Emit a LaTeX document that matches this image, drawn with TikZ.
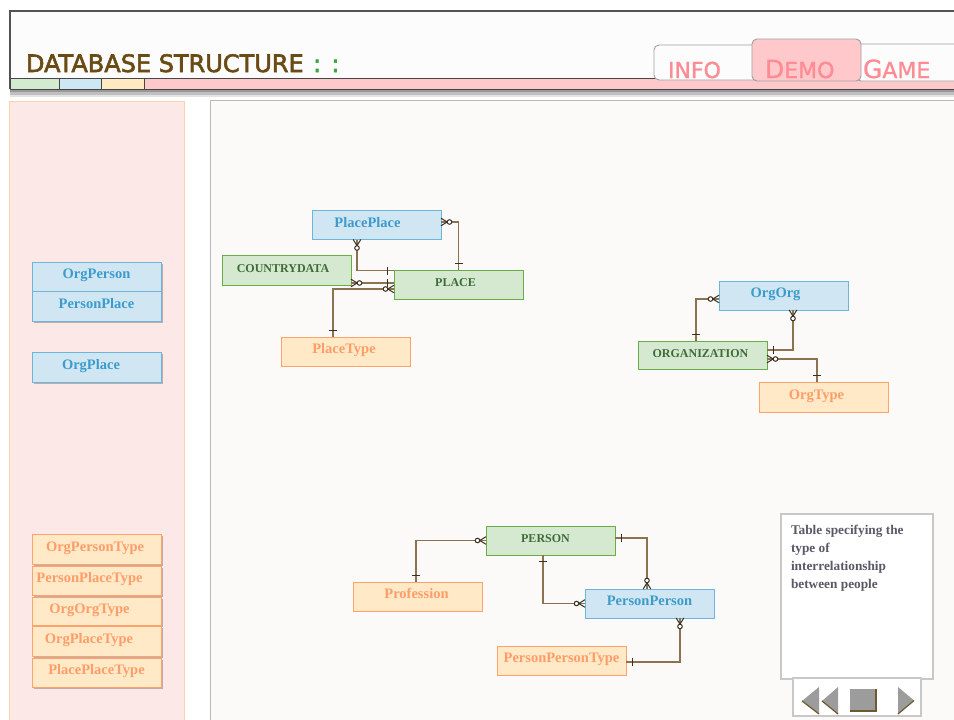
\documentclass[tikz,border=0pt]{standalone}
\usepackage{fontspec}
\setmainfont{Liberation Serif}
\newfontfamily\titlefont{DejaVu Sans}[FakeBold=2.5]
\newfontfamily\tabfont{DejaVu Sans}[FakeBold=1.2]
\usetikzlibrary{shadows}

% palette
\definecolor{titlebrown}{HTML}{6A4B16}
\definecolor{dotgreen}{HTML}{3CA53C}
\definecolor{tabpink}{HTML}{FF8C94}
\definecolor{tabfill}{HTML}{FFC9CC}
\definecolor{stripgreen}{HTML}{D3E9D0}
\definecolor{stripblue}{HTML}{CFE6F3}
\definecolor{stripyellow}{HTML}{FFEAC2}
\definecolor{leftfill}{HTML}{FDE8E8}
\definecolor{leftborder}{HTML}{FFD2AE}
\definecolor{mainfill}{HTML}{FCFAF8}
\definecolor{bluefill}{HTML}{D0E7F3}
\definecolor{blueline}{HTML}{6CB6DC}
\definecolor{bluetext}{HTML}{3D9BCC}
\definecolor{greenfill}{HTML}{D4E9D0}
\definecolor{greenline}{HTML}{6AAD46}
\definecolor{greentext}{HTML}{3F6B38}
\definecolor{orangefill}{HTML}{FFE9C6}
\definecolor{orangeline}{HTML}{FFA26C}
\definecolor{orangetext}{HTML}{FF9D6A}
\definecolor{relline}{HTML}{8B7352}
\definecolor{markc}{HTML}{3B3023}
\definecolor{notegray}{HTML}{C8C8C8}
\definecolor{notetext}{HTML}{5B5868}
\definecolor{navgray}{HTML}{9C9C9C}
\definecolor{navbrown}{HTML}{6E5A2E}

\tikzset{
  every node/.style={inner sep=0pt, outer sep=0pt},
  entity/.style={draw, line width=1pt, minimum width=129pt, minimum height=29pt,
    text height=10pt, text depth=6pt, font=\fontsize{14.5}{16}\selectfont\bfseries},
  bluebox/.style={entity, fill=bluefill, draw=blueline, text=bluetext},
  greenbox/.style={entity, fill=greenfill, draw=greenline, text=greentext,
    font=\fontsize{12}{14}\selectfont\bfseries},
  orangebox/.style={entity, fill=orangefill, draw=orangeline, text=orangetext},
  listshadow/.style={drop shadow={shadow xshift=2pt, shadow yshift=-2pt, opacity=0.25, fill=black}},
  rel/.style={draw=relline, line width=1.4pt},
  markline/.style={draw=markc, line width=1pt},
  zeromany/.pic={
    \draw[markline] (0,-3.8) -- (6.2,0) -- (0,3.8);
    \draw[markline, fill=white] (8.5,0) circle[radius=2.3pt];
  },
  onebar/.pic={
    \draw[markline] (6.5,-4) -- (6.5,4);
  },
  tab/.style={draw=gray!75, line width=0.9pt, rounded corners=5pt},
  tabtext/.style={anchor=base west, text=tabpink, font=\tabfont\fontsize{22}{22}\selectfont},
}

\begin{document}
\begin{tikzpicture}[x=1pt, y=-1pt]
\useasboundingbox (0,0) rectangle (954,720);
\clip (0,0) rectangle (954,720);
\fill[white] (0,0) rectangle (954,720);

% ---------- header bar ----------
\fill[gray!80] (10,89) rectangle (960,92);
\fill[gray!50] (10,92) rectangle (960,95);
\fill[gray!22] (10,95) rectangle (960,97);
\fill[white!99!black] (10,11) rectangle (960,89);
\draw[gray!65!black, line width=1.3pt] (960,11) -- (10,11) -- (10,89);

% colour strip
\begin{scope}[draw=gray!55!black, line width=0.8pt]
  \filldraw[fill=stripgreen]  (10,78) rectangle (59,89);
  \filldraw[fill=stripblue]   (59,78) rectangle (101,89);
  \filldraw[fill=stripyellow] (101,78) rectangle (144,89);
  \filldraw[fill=tabfill]     (144,78) rectangle (962,89);
\end{scope}

\node[anchor=base west, text=titlebrown, font=\titlefont\fontsize{24}{24}\selectfont]
  (title) at (26,72) {DATABASE STRUCTURE};
\node[anchor=base west, text=dotgreen, font=\titlefont\fontsize{24}{24}\selectfont]
  (dots) at (313,72) {: :};

% tabs
\filldraw[tab, fill=white!99!black] (654,45) rectangle (760,80);
\filldraw[tab, fill=white!99!black] (856,44) rectangle (975,81);
\filldraw[tab, fill=tabfill] (752,39) rectangle (861,81);
\node[tabtext] (info) at (668,78) {INFO};
\node[tabtext] (demo) at (765,78) {{\fontsize{25}{25}\selectfont D}EMO};
\node[tabtext] (game) at (863,78) {{\fontsize{25}{25}\selectfont G}AME};

% ---------- side panel ----------
\filldraw[draw=leftborder, fill=leftfill, line width=1pt] (9,101) rectangle (184,730);

\node[bluebox, listshadow] (lop)  at (96.5,276.5) {OrgPerson};
\node[bluebox, listshadow, minimum height=30pt] (lpp) at (96.5,306) {PersonPlace};
\node[bluebox, listshadow, minimum height=30pt] (lopl) at (96.5,367) {OrgPlace\kern11pt};

\node[orangebox, listshadow, minimum height=30pt] (lopt)  at (96.5,549)   {OrgPersonType\kern3pt};
\node[orangebox, listshadow] (lppt)  at (96.5,580.5) {PersonPlaceType\kern14pt};
\node[orangebox, listshadow, minimum height=28pt] (loot)  at (96.5,611)   {OrgOrgType\kern14pt};
\node[orangebox, listshadow, minimum height=30pt] (lplt)  at (96.5,641)   {OrgPlaceType\kern15pt};
\node[orangebox, listshadow] (lpplt) at (96.5,672.5) {PlacePlaceType};

% ---------- diagram panel ----------
\filldraw[draw=gray!55, fill=mainfill, line width=1pt] (210,100) rectangle (962,730);

% place group
\node[bluebox]   (pp) at (376.5,225)   {PlacePlace\kern18pt};
\node[greenbox, minimum height=30pt] (cd) at (286.5,270) {COUNTRYDATA\kern7pt};
\node[greenbox]  (pl) at (458.5,284.5) {PLACE\kern6pt};
\node[orangebox] (pt) at (345.5,351.5) {PlaceType\kern3pt};

% organization group
\node[bluebox]   (oo)  at (783.5,295.5) {OrgOrg\kern16pt};
\node[greenbox, minimum height=28pt] (org) at (702.5,355) {ORGANIZATION\kern4pt};
\node[orangebox, minimum height=30pt] (ot) at (823.5,397) {OrgType\kern14pt};

% person group
\node[greenbox]  (per)  at (550.5,540.5) {PERSON\kern10pt};
\node[orangebox] (prof) at (417.5,596.5) {Profession\kern2pt};
\node[bluebox]   (ppn)  at (649.5,603.5) {PersonPerson};
\node[orangebox] (ppt)  at (561.5,660.5) {PersonPersonType};

% ---------- relationships ----------
% PlacePlace -- PLACE
\coordinate (a1) at ([yshift=3pt]pp.east);
\draw[rel] (a1) -| (pl.north);
\pic at (a1) {zeromany};
\pic[rotate=90] at (pl.north) {onebar};

\coordinate (a2) at ([xshift=-19.5pt]pp.south);
\coordinate (a2e) at ([yshift=14pt]pl.west);
\draw[rel] (a2) |- (a2e);
\pic[rotate=-90] at (a2) {zeromany};
\pic[rotate=180] at (a2e) {onebar};

% COUNTRYDATA -- PLACE
\coordinate (a3) at ([yshift=-13pt]cd.east);
\draw[rel] (a3) -- (a3 -| pl.west);
\pic at (a3) {zeromany};
\pic[rotate=180] at (a3 -| pl.west) {onebar};

% PlaceType -- PLACE
\coordinate (a4) at ([xshift=-12.5pt]pt.north);
\coordinate (a4e) at ([yshift=-4.5pt]pl.west);
\draw[rel] (a4) |- (a4e);
\pic[rotate=90] at (a4) {onebar};
\pic[rotate=180] at (a4e) {zeromany};

% ORGANIZATION -- OrgOrg
\coordinate (b1) at ([xshift=-6.5pt]org.north);
\coordinate (b1e) at ([yshift=-3.5pt]oo.west);
\draw[rel] (b1) |- (b1e);
\pic[rotate=90] at (b1) {onebar};
\pic[rotate=180] at (b1e) {zeromany};

\coordinate (b2) at ([xshift=9.5pt]oo.south);
\coordinate (b2e) at ([yshift=5pt]org.east);
\draw[rel] (b2) |- (b2e);
\pic[rotate=-90] at (b2) {zeromany};
\pic at (b2e) {onebar};

% ORGANIZATION -- OrgType
\coordinate (b3) at ([yshift=-4pt]org.east);
\coordinate (b3e) at ([xshift=-6.5pt]ot.north);
\draw[rel] (b3) -| (b3e);
\pic at (b3) {zeromany};
\pic[rotate=90] at (b3e) {onebar};

% PERSON -- Profession
\coordinate (c1) at (per.west);
\coordinate (c1e) at ([xshift=-1.5pt]prof.north);
\draw[rel] (c1) -| (c1e);
\pic[rotate=180] at (c1) {zeromany};
\pic[rotate=90] at (c1e) {onebar};

% PERSON -- PersonPerson
\coordinate (c2) at ([yshift=2.5pt]per.east);
\coordinate (c2e) at ([xshift=-2.5pt]ppn.north);
\draw[rel] (c2) -| (c2e);
\pic at (c2) {onebar};
\pic[rotate=90] at (c2e) {zeromany};

\coordinate (c3) at ([xshift=-7.5pt]per.south);
\draw[rel] (c3) |- (ppn.west);
\pic[rotate=-90] at (c3) {onebar};
\pic[rotate=180] at (ppn.west) {zeromany};

% PersonPerson -- PersonPersonType
\coordinate (c4) at ([xshift=30.5pt]ppn.south);
\coordinate (c4e) at ([yshift=-1.5pt]ppt.east);
\draw[rel] (c4) |- (c4e);
\pic[rotate=-90] at (c4) {zeromany};
\pic at (c4e) {onebar};

% ---------- description box ----------
\node[draw=notegray, line width=1.5pt, fill=white, minimum width=152pt,
  minimum height=165pt, anchor=north west] (note) at (781,514) {};
\node[anchor=north west, align=left, text=notetext,
  font=\fontsize{13.3}{18}\selectfont\bfseries] (notetxt) at (791,525)
  {Table specifying the\\type of\\interrelationship\\between people};

% ---------- navigation buttons ----------
\node[draw=notegray, line width=1.2pt, fill=white, minimum width=128pt,
  minimum height=38pt, anchor=north west] (nav) at (793,678) {};
\fill[navgray] (802,701) -- (819,687) -- (819,714) -- cycle;
\draw[navbrown, line width=1.2pt] (802,701) -- (819,714);
\fill[navgray] (822,701) -- (838,687) -- (838,714) -- cycle;
\draw[navbrown, line width=1.2pt] (822,701) -- (838,714);
\fill[navgray] (850,689) rectangle (876,711);
\draw[navbrown, line width=1.2pt] (850,711) -- (876,711) -- (876,689);
\fill[navgray] (898,687) -- (914,700.5) -- (898,714) -- cycle;
\draw[navbrown, line width=1.2pt] (898,714) -- (914,700.5);
\end{tikzpicture}
\end{document}
